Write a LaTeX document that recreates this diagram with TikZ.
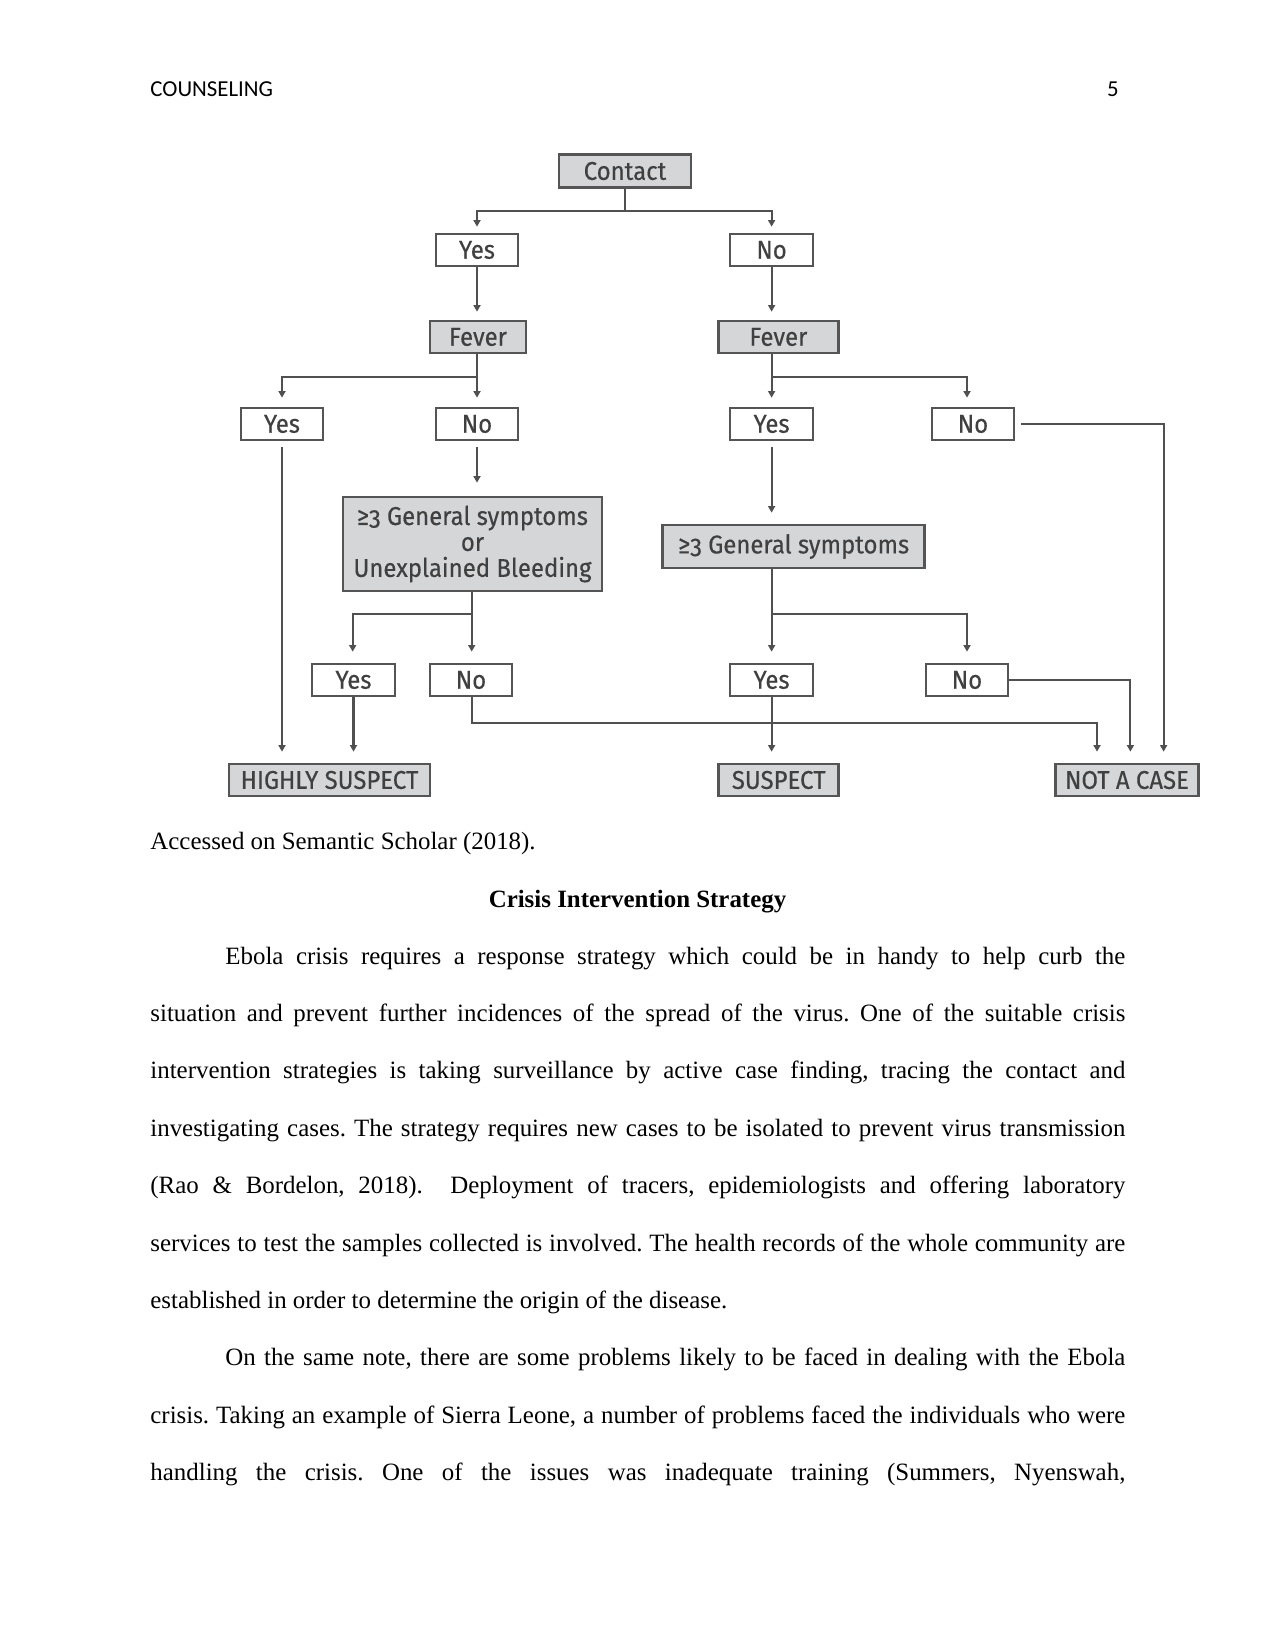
\documentclass[tikz,border=0pt]{standalone}
\usepackage{fontspec}
\setmainfont{Liberation Serif}
\newfontfamily\hdrfont{Carlito}
\newfontfamily\flowfont[Numbers=OldStyle,FakeStretch=0.93,FakeBold=0.4]{Fira Sans}
\usetikzlibrary{arrows.meta}
\newcommand\pxu{*0.4818pt}
\definecolor{linec}{HTML}{505050}
\definecolor{boxc}{HTML}{555555}
\definecolor{grayfill}{HTML}{D4D6D8}
\definecolor{txtc}{HTML}{404040}
\tikzset{
  wbox/.style={draw=boxc, line width=1.3pt, fill=white, inner sep=0pt,
    minimum height=32\pxu, text=txtc, align=center,
    font=\flowfont\fontsize{12.4}{12.5}\selectfont},
  gbox/.style={wbox, fill=grayfill},
  line/.style={draw=linec, line width=1pt},
  conn/.style={line, -{Triangle[length=3.2pt,width=3.4pt]}},
  bodyline/.style={anchor=base west, inner sep=0pt, font=\fontsize{12}{14}\selectfont},
}
\frenchspacing
\begin{document}
\frenchspacing
\begin{tikzpicture}[x=0.4818pt,y=-0.4818pt]
\fill[white] (0,0) rectangle (1275,1650);
\useasboundingbox (0,0) rectangle (1275,1650);

% header
\node[anchor=base west, inner sep=0pt, font=\hdrfont\fontsize{11}{13}\selectfont] (hdr) at (150,97) {COUNSELING};
\node[anchor=base east, inner sep=0pt, font=\hdrfont\fontsize{11}{13}\selectfont] (pg) at (1119,97) {5};

% flowchart nodes
\node[gbox, minimum width=132\pxu, minimum height=33\pxu] (contact) at (625,171) {Contact};
\node[wbox, minimum width=82\pxu] (yes1) at (477,250) {Yes};
\node[wbox, minimum width=83\pxu] (no1) at (771.6,250) {No};
\node[gbox, minimum width=96\pxu] (feverL) at (478,337) {Fever};
\node[gbox, minimum width=120\pxu] (feverR) at (778.4,337) {Fever};
\node[wbox, minimum width=82\pxu] (yes2L) at (282,424) {Yes};
\node[wbox, minimum width=82\pxu] (no2L) at (477,424) {No};
\node[wbox, minimum width=83\pxu] (yes2R) at (771.6,424) {Yes};
\node[wbox, minimum width=82\pxu] (no2R) at (973,424) {No};
\node[gbox, minimum width=259\pxu, minimum height=94\pxu] (gsL) at (472.5,544) {≥3 General symptoms\\or\\Unexplained Bleeding};
\node[gbox, minimum width=262\pxu, minimum height=43\pxu] (gsR) at (793.7,546.5) {≥3 General symptoms};
\node[wbox, minimum width=83\pxu] (yes3L) at (353.5,680) {Yes};
\node[wbox, minimum width=82\pxu] (no3L) at (471,680) {No};
\node[wbox, minimum width=83\pxu] (yes3R) at (771.6,680) {Yes};
\node[wbox, minimum width=82\pxu] (no3R) at (967,680) {No};
\node[gbox, minimum width=201\pxu] (hs) at (329.5,780) {HIGHLY SUSPECT};
\node[gbox, minimum width=120\pxu] (suspect) at (778.7,780) {SUSPECT};
\node[gbox, minimum width=143\pxu] (nac) at (1127,780) {NOT A CASE};

% junctions
\coordinate (j1) at (625,210.7);
\coordinate (j2) at (477,377);
\coordinate (j3) at (771.6,377);
\coordinate (j4) at (471.7,614);
\coordinate (j5) at (771.6,614);
\coordinate (k1) at (967,614);
\coordinate (k2) at (967,377);
\coordinate (r1) at (1163.6,424);
\coordinate (r2) at (1097,723);
\coordinate (r3) at (1130.4,680);
\coordinate (c4) at (352.7,614);

% connectors
\draw[line] (contact.south) -- (j1);
\draw[conn, shorten >=6\pxu] (j1) -| (yes1.north);
\draw[conn, shorten >=6\pxu] (j1) -| (no1.north);
\draw[conn, shorten >=8\pxu] (yes1.south) -- (yes1.south |- feverL.north);
\draw[conn, shorten >=8\pxu] (no1.south) -- (no1.south |- feverR.north);

\draw[line] (j2 |- feverL.south) -- (j2);
\draw[conn, shorten >=9\pxu] (j2) -| (yes2L.north);
\draw[conn, shorten >=9\pxu] (j2) -- (no2L.north);
\draw[line] (j3 |- feverR.south) -- (j3);
\draw[conn, shorten >=9\pxu] (j3) -- (yes2R.north);
\draw[conn, shorten >=9\pxu] (j3) -- (k2) -- (k2 |- no2R.north);

\draw[conn, shorten <=6\pxu, shorten >=11\pxu] (yes2L.south) -- (yes2L.south |- hs.north);
\draw[conn, shorten <=6\pxu, shorten >=13\pxu] (no2L.south) -- (no2L.south |- gsL.north);
\draw[conn, shorten <=6\pxu, shorten >=11\pxu] (yes2R.south) -- (yes2R.south |- gsR.north);
\draw[conn, shorten <=6\pxu, shorten >=11\pxu] (no2R.east) -- (r1) -- (r1 |- nac.north);

\draw[line] (j4 |- gsL.south) -- (j4);
\draw[conn, shorten >=11\pxu] (j4) -- (c4) -- (c4 |- yes3L.north);
\draw[conn, shorten >=11\pxu] (j4) -- (j4 |- no3L.north);
\draw[line] (j5 |- gsR.south) -- (j5);
\draw[conn, shorten >=11\pxu] (j5) -- (yes3R.north);
\draw[conn, shorten >=11\pxu] (j5) -- (k1) -- (k1 |- no3R.north);

\draw[conn, shorten >=11\pxu] (yes3L.south) -- (yes3L.south |- hs.north);
\draw[conn, shorten >=11\pxu] (j4 |- no3L.south) |- (r2) -- (r2 |- nac.north);
\draw[conn, shorten >=11\pxu] (yes3R.south) -- (yes3R.south |- suspect.north);
\draw[conn, shorten >=11\pxu] (no3R.east) -- (r3) -- (r3 |- nac.north);

% caption and heading
\node[bodyline] (cap) at (150,849) {Accessed on Semantic Scholar (2018).};
\node[anchor=base, inner sep=0pt, font=\bfseries\fontsize{12}{14}\selectfont] (head) at (637.5,907) {Crisis Intervention Strategy};

% body text
\node[bodyline] (l1) at (225,964) {\hbox to 6in{Ebola crisis requires a response strategy which could be in handy to help curb the}};
\node[bodyline] (l2) at (150,1021.4) {\hbox to 6.5in{situation and prevent further incidences of the spread of the virus. One of the suitable crisis}};
\node[bodyline] (l3) at (150,1078.8) {\hbox to 6.5in{intervention strategies is taking surveillance by active case finding, tracing the contact and}};
\node[bodyline] (l4) at (150,1136.2) {\hbox to 6.5in{investigating cases. The strategy requires new cases to be isolated to prevent virus transmission}};
\node[bodyline] (l5) at (150,1193.6) {\hbox to 6.5in{(Rao \& Bordelon, 2018).\ \ Deployment of tracers, epidemiologists and offering laboratory}};
\node[bodyline] (l6) at (150,1251) {\hbox to 6.5in{services to test the samples collected is involved. The health records of the whole community are}};
\node[bodyline] (l7) at (150,1308.4) {established in order to determine the origin of the disease.};
\node[bodyline] (l8) at (225,1365.8) {\hbox to 6in{On the same note, there are some problems likely to be faced in dealing with the Ebola}};
\node[bodyline] (l9) at (150,1423.2) {\hbox to 6.5in{crisis. Taking an example of Sierra Leone, a number of problems faced the individuals who were}};
\node[bodyline] (l10) at (150,1480.6) {\hbox to 6.5in{handling the crisis. One of the issues was inadequate training (Summers, Nyenswah,}};
\end{tikzpicture}
\end{document}
